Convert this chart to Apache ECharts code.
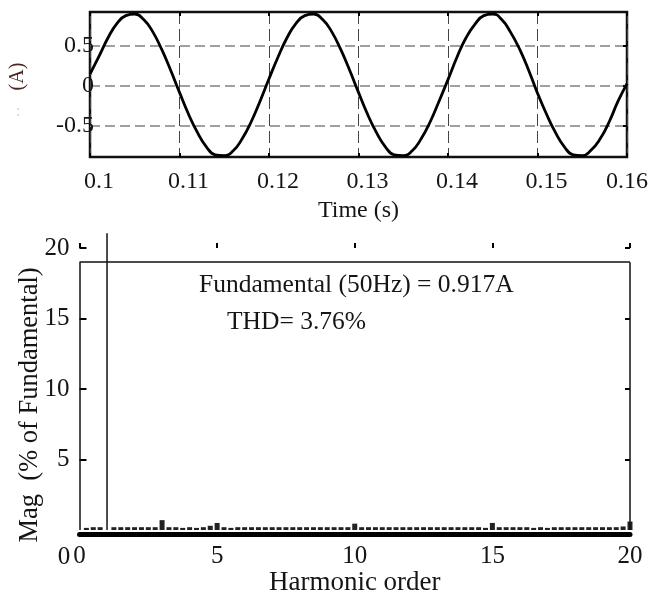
<!DOCTYPE html>
<html><head><meta charset="utf-8">
<script src="https://cdn.jsdelivr.net/npm/echarts@6/dist/echarts.min.js"></script>
<style>html,body{margin:0;padding:0;background:#fff}#c{width:651px;height:600px}</style>
</head><body><div id="c"></div>
<script>
// ---- Top plot: current waveform ----
const timeS = [
  0.100,0.101,0.102,0.103,0.104,0.105,0.106,0.107,0.108,0.109,
  0.110,0.111,0.112,0.113,0.114,0.115,0.116,0.117,0.118,0.119,
  0.120,0.121,0.122,0.123,0.124,0.125,0.126,0.127,0.128,0.129,
  0.130,0.131,0.132,0.133,0.134,0.135,0.136,0.137,0.138,0.139,
  0.140,0.141,0.142,0.143,0.144,0.145,0.146,0.147,0.148,0.149,
  0.150,0.151,0.152,0.153,0.154,0.155,0.156,0.157,0.158,0.159,
  0.160
];
const currentA = [
  0.15, 0.37, 0.60, 0.78, 0.88, 0.90, 0.83, 0.68, 0.46, 0.20,
  -0.08,-0.35,-0.58,-0.76,-0.86,-0.87,-0.81,-0.66,-0.45,-0.19,
  0.09, 0.36, 0.60, 0.78, 0.88, 0.90, 0.83, 0.68, 0.46, 0.20,
  -0.08,-0.35,-0.58,-0.76,-0.86,-0.87,-0.81,-0.66,-0.45,-0.19,
  0.08, 0.36, 0.60, 0.77, 0.88, 0.90, 0.83, 0.67, 0.46, 0.20,
  -0.09,-0.35,-0.58,-0.76,-0.86,-0.87,-0.80,-0.66,-0.45,-0.19,
  0.03
];
const topXTicks = [0.1, 0.11, 0.12, 0.13, 0.14, 0.15, 0.16];
const topYTicks = [-0.5, 0, 0.5];

// ---- Bottom plot: harmonic spectrum (% of fundamental) ----
const harmOrder = [
  0.25,0.5,0.75,1.25,1.5,1.75,2,2.25,2.5,2.75,
  3,3.25,3.5,3.75,4,4.25,4.5,4.75,5,5.25,
  5.5,5.75,6,6.25,6.5,6.75,7,7.25,7.5,7.75,
  8,8.25,8.5,8.75,9,9.25,9.5,9.75,10,10.25,
  10.5,10.75,11,11.25,11.5,11.75,12,12.25,12.5,12.75,
  13,13.25,13.5,13.75,14,14.25,14.5,14.75,15,15.25,
  15.5,15.75,16,16.25,16.5,16.75,17,17.25,17.5,17.75,
  18,18.25,18.5,18.75,19,19.25,19.5,19.75,20
];
const harmMag = [
  0.15,0.2,0.2,0.2,0.2,0.2,0.2,0.2,0.2,0.2,
  0.7,0.2,0.2,0.15,0.2,0.15,0.2,0.3,0.5,0.2,
  0.15,0.2,0.2,0.2,0.2,0.2,0.2,0.2,0.2,0.2,
  0.2,0.2,0.2,0.2,0.2,0.2,0.2,0.2,0.45,0.2,
  0.2,0.2,0.2,0.2,0.2,0.2,0.2,0.2,0.2,0.2,
  0.2,0.2,0.2,0.2,0.2,0.2,0.2,0.15,0.5,0.2,
  0.2,0.2,0.2,0.2,0.15,0.2,0.15,0.2,0.2,0.2,
  0.2,0.2,0.2,0.2,0.2,0.2,0.2,0.25,0.6
];
const fundOrder = 1;
const fundMag = 100;
const botXTicks = [0, 5, 10, 15, 20];
const botYTicks = [5, 10, 15, 20];
const boxTop = 19;

const FONT = '"Liberation Serif","Times New Roman",serif';
const TXT = '#151515';

const chart = echarts.init(document.getElementById('c'));
const tickOnly = (vals, len, inside) => ({
  show: true, inside: inside, length: len, customValues: vals,
  lineStyle: { color: '#000', width: 2 }
});
const noLine = { show: false, onZero: false };

chart.setOption({
  animation: false,
  backgroundColor: '#fff',
  grid: [
    { left: 88, right: 22, top: 12, bottom: 443, show: true, borderColor: '#111', borderWidth: 2.5 },
    { left: 79.5, right: 21, top: 234, bottom: 70, show: false }
  ],
  xAxis: [
    { gridIndex: 0, type: 'value', min: 0.1, max: 0.16, position: 'bottom',
      axisLine: noLine,
      axisTick: tickOnly(topXTicks, 4, true),
      axisLabel: { customValues: topXTicks,
        formatter: v => { const s = String(+(+v).toFixed(2)); return +v >= 0.1595 ? '{b|' + s + '}' : '{a|' + s + '}'; },
        rich: {
          a: { fontSize: 24, fontFamily: FONT, color: TXT, padding: [0, 0, 0, 18] },
          b: { fontSize: 24, fontFamily: FONT, color: TXT }
        },
        fontSize: 24, fontFamily: FONT, color: TXT, margin: 13 },
      splitLine: { show: true, lineStyle: { color: '#444', type: [12, 5], width: 1 } },
      name: 'Time (s)', nameLocation: 'middle', nameGap: 42,
      nameTextStyle: { fontSize: 24, fontFamily: FONT, color: TXT } },
    { gridIndex: 0, type: 'value', min: 0.1, max: 0.16, position: 'top',
      axisLine: noLine, axisTick: tickOnly(topXTicks, 4, true),
      axisLabel: { show: false }, splitLine: { show: false } },
    { gridIndex: 1, type: 'value', min: 0, max: 20, position: 'bottom', offset: 4,
      axisLine: { show: true, onZero: false, lineStyle: { color: '#000', width: 5 } },
      axisTick: { show: false },
      axisLabel: { customValues: botXTicks, fontSize: 25, fontFamily: FONT, color: TXT, margin: 10 },
      splitLine: { show: false },
      name: 'Harmonic order', nameLocation: 'middle', nameGap: 32,
      nameTextStyle: { fontSize: 27, fontFamily: FONT, color: TXT } },
    { gridIndex: 1, type: 'value', min: 0, max: 20, position: 'top', offset: -14,
      axisLine: noLine, axisTick: tickOnly(botXTicks, 5, false),
      axisLabel: { show: false }, splitLine: { show: false } }
  ],
  yAxis: [
    { gridIndex: 0, type: 'value', min: -0.8875, max: 0.925,
      axisLine: noLine, axisTick: { show: false, customValues: topYTicks },
      axisLabel: { customValues: topYTicks, fontSize: 24, fontFamily: FONT, color: TXT, margin: -4 },
      splitLine: { show: true, lineStyle: { color: '#a0a0a0', type: [10, 5], width: 2 } },
      name: '(A)', nameLocation: 'middle', nameRotate: 90, nameGap: 62,
      nameTextStyle: { fontSize: 20, fontFamily: FONT, color: '#4a2a20', padding: [0, 0, 0, 16] } },
    { gridIndex: 0, type: 'value', min: -0.8875, max: 0.925, position: 'right',
      axisLine: noLine, axisTick: tickOnly(topYTicks, 4, true),
      axisLabel: { show: false }, splitLine: { show: false } },
    { gridIndex: 1, type: 'value', min: 0, max: 21,
      axisLine: noLine, axisTick: tickOnly(botYTicks, 7, true),
      axisLabel: { customValues: botYTicks, fontSize: 25, fontFamily: FONT, color: TXT, margin: 10 },
      splitLine: { show: false } },
    { gridIndex: 1, type: 'value', min: 0, max: 21, position: 'right',
      axisLine: noLine, axisTick: tickOnly(botYTicks, 5, true),
      axisLabel: { show: false }, splitLine: { show: false } }
  ],
  series: [
    { type: 'line', xAxisIndex: 0, yAxisIndex: 0, smooth: true, showSymbol: false,
      data: timeS.map((t, i) => [t, currentA[i]]),
      lineStyle: { color: '#000', width: 2.8 } },
    { type: 'bar', xAxisIndex: 2, yAxisIndex: 2, barWidth: 5,
      data: harmOrder.map((h, i) => [h, harmMag[i]]),
      itemStyle: { color: '#222' },
      markLine: { silent: true, symbol: 'none', label: { show: false },
        lineStyle: { color: '#111', width: 1.5, type: 'solid' },
        data: [
          [{ coord: [0, 0] }, { coord: [0, boxTop] }],
          [{ coord: [0, boxTop] }, { coord: [20, boxTop] }],
          [{ coord: [20, 0] }, { coord: [20, boxTop] }]
        ] } },
    { type: 'line', xAxisIndex: 2, yAxisIndex: 2, showSymbol: false, clip: true,
      data: [[fundOrder, 0], [fundOrder, fundMag]],
      lineStyle: { color: '#111', width: 1.5 } }
  ],
  graphic: [
    { type: 'text', style: { text: 'Fundamental (50Hz) = 0.917A', x: 199, y: 285,
        verticalAlign: 'middle', font: '25.5px ' + FONT, fill: TXT } },
    { type: 'text', style: { text: 'THD= 3.76%', x: 227, y: 322,
        verticalAlign: 'middle', font: '25.5px ' + FONT, fill: TXT } },
    { type: 'text', x: 30, y: 405, rotation: Math.PI / 2,
      style: { text: 'Mag  (% of Fundamental)', x: 0, y: 0, align: 'center',
        verticalAlign: 'middle', font: '26.5px ' + FONT, fill: TXT } },
    { type: 'text', style: { text: '0', x: 64, y: 557, align: 'center',
        verticalAlign: 'middle', font: '25px ' + FONT, fill: TXT } },
    { type: 'text', x: 16, y: 112, rotation: Math.PI / 2,
      style: { text: '. .', x: 0, y: 0, align: 'center', verticalAlign: 'middle',
        font: '12px ' + FONT, fill: '#e0a0a0' } }
  ]
});
</script>
</body></html>
